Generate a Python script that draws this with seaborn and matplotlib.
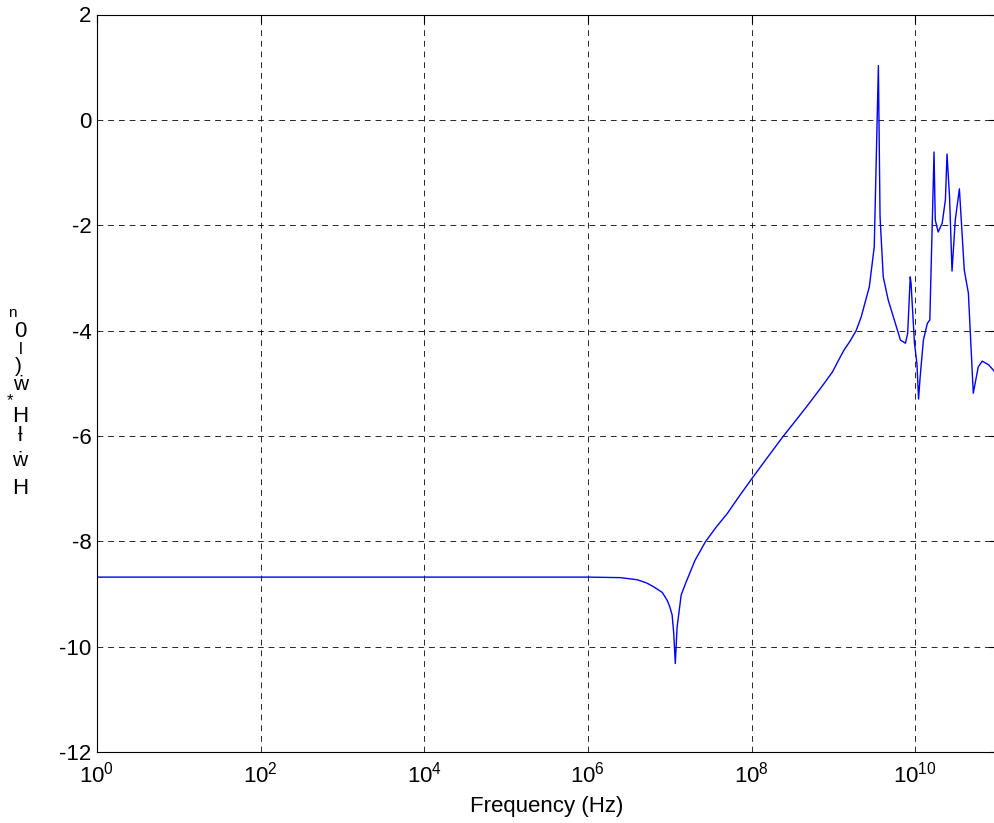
import matplotlib
matplotlib.use("Agg")
import matplotlib.pyplot as plt
import matplotlib.ticker as mticker
import seaborn as sns
import pandas as pd

# Frequency response samples (Hz) and the magnitude curve (log scale units)
frequency_hz = [
    1, 1e3, 1e5, 1e6, 2.5e6, 4e6, 5.2e6, 6.3e6, 8.1e6, 9.3e6, 1.0e7, 1.07e7,
    1.12e7, 1.17e7, 1.23e7, 1.38e7, 1.58e7, 2.04e7, 2.73e7, 3.7e7, 5.07e7,
    7.1e7, 1.02e8, 1.58e8, 2.4e8, 3.5e8, 4.9e8, 7.1e8, 9.8e8, 1.15e9,
    1.35e9, 1.6e9, 1.9e9, 2.19e9, 2.75e9, 3.16e9, 3.55e9, 3.72e9, 4.07e9,
    4.68e9, 5.9e9, 6.6e9, 7.6e9, 8.1e9, 8.7e9, 8.9e9, 9.8e9, 1.05e10,
    1.10e10, 1.15e10, 1.26e10, 1.41e10, 1.51e10, 1.70e10, 1.76e10, 1.91e10,
    2.14e10, 2.34e10, 2.45e10, 2.63e10, 2.82e10, 3.09e10, 3.47e10, 3.98e10,
    4.47e10, 4.68e10, 5.13e10, 5.5e10, 5.9e10, 6.6e10, 7.9e10, 9.5e10, 1e11,
]
magnitude = [
    -8.68, -8.68, -8.68, -8.68, -8.69, -8.73, -8.79, -8.86, -8.97, -9.12,
    -9.24, -9.40, -9.75, -10.32, -9.63, -9.02, -8.78, -8.36, -8.01, -7.73,
    -7.47, -7.14, -6.80, -6.40, -6.02, -5.70, -5.41, -5.08, -4.78, -4.57,
    -4.37, -4.20, -4.00, -3.74, -3.17, -2.41, 1.03, -1.84, -2.98, -3.42,
    -3.93, -4.18, -4.24, -4.05, -2.98, -3.10, -4.24, -4.62, -5.30, -4.88,
    -4.18, -3.86, -3.80, -0.61, -1.90, -2.13, -1.96, -1.52, -0.65, -1.46,
    -2.87, -1.90, -1.31, -2.85, -3.29, -3.93, -5.19, -4.94, -4.69, -4.58,
    -4.65, -4.79, -4.82,
]

y_ticks = [-12, -10, -8, -6, -4, -2, 0, 2]
x_ticks = [1e0, 1e2, 1e4, 1e6, 1e8, 1e10]
x_label = "Frequency (Hz)"
# Characters of the vertical axis caption, stacked top to bottom
y_label_glyphs = ["n", "0", "l", ")", "ẇ", "*", "H", "ƚ", "ẇ", "H"]

sns.set_theme(style="white")
plt.rcParams["font.family"] = ["Liberation Sans", "DejaVu Sans"]
plt.rcParams["axes.unicode_minus"] = False
plt.rcParams["mathtext.fontset"] = "custom"
plt.rcParams["mathtext.rm"] = "Liberation Sans"
plt.rcParams["mathtext.it"] = "Liberation Sans:italic"
plt.rcParams["mathtext.bf"] = "Liberation Sans:bold"

W, H = 994, 823
fig = plt.figure(figsize=(W / 100, H / 100), dpi=100)
fig.patch.set_facecolor("white")
ax = fig.add_axes([97 / W, 1 - 752 / H, (997 - 97) / W, (752 - 14.5) / H])

df = pd.DataFrame({"freq": frequency_hz, "mag": magnitude})
sns.lineplot(data=df, x="freq", y="mag", ax=ax, color="#0000ff",
             linewidth=1.0, sort=True, estimator=None)

ax.set_xscale("log")
ax.set_xlim(1, 1e11)
ax.set_ylim(-12, 2)
ax.set_xticks(x_ticks)
ax.set_yticks(y_ticks)
ax.xaxis.set_major_formatter(mticker.LogFormatterSciNotation())
ax.xaxis.set_minor_locator(mticker.NullLocator())
ax.yaxis.set_minor_locator(mticker.NullLocator())

ax.grid(True, which="major", color="black", linestyle=(0, (6, 5)),
        linewidth=0.7, alpha=0.85)
ax.tick_params(axis="both", which="major", direction="in", length=6,
               width=0.8, labelsize=16, colors="black", top=True, right=True,
               pad=4)
ax.tick_params(axis="x", pad=7)
for side in ["left", "bottom", "top", "right"]:
    ax.spines[side].set_visible(True)
    ax.spines[side].set_color("black")
    ax.spines[side].set_linewidth(0.8)

ax.set_xlabel(x_label, fontsize=16, labelpad=6, color="black")
ax.set_ylabel("")

# stacked, upright caption glyphs along the left margin (pixel placements)
glyph_pos = [
    (12, 313, 11), (20, 331, 16), (21, 350, 12), (18, 366, 15),
    (21, 385, 15), (10, 401, 12), (20, 416, 16), (20, 436, 15),
    (20, 461, 15), (20, 488, 16),
]
for ch, (px, py, fs) in zip(y_label_glyphs, glyph_pos):
    fig.text(px / W, 1 - py / H, ch, fontsize=fs, ha="center", va="center",
             color="black")

fig.savefig("out.png", dpi=100, facecolor="white")
